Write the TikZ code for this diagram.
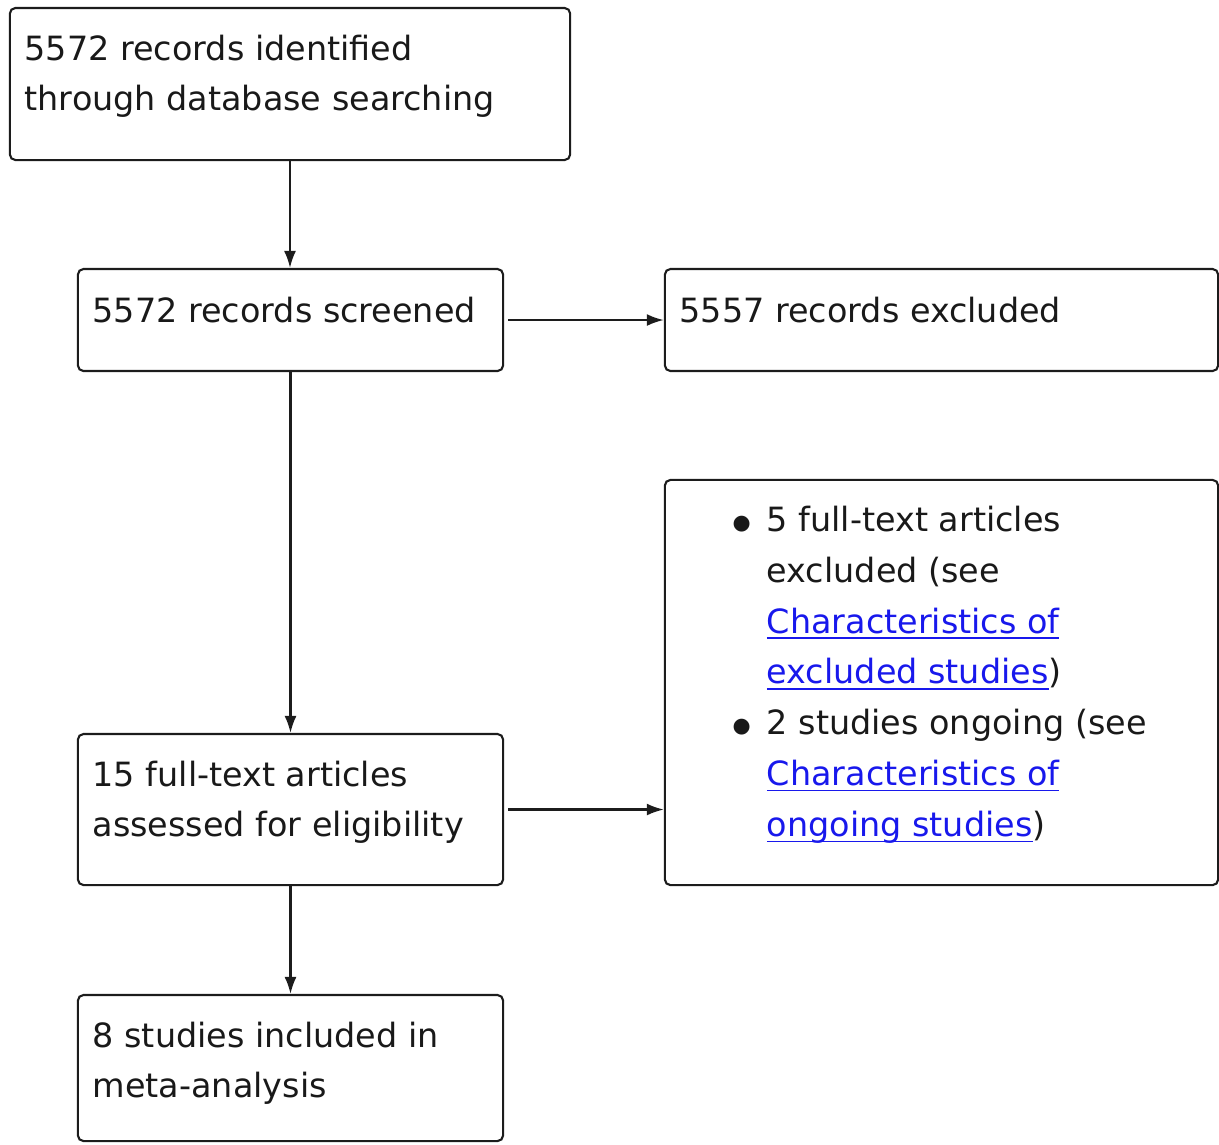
\documentclass[tikz,border=0pt]{standalone}
\usepackage{fontspec}
\setmainfont{DejaVu Sans}
\usetikzlibrary{arrows.meta}

\definecolor{linkblue}{RGB}{24,24,236}
\definecolor{boxline}{RGB}{28,28,28}

\tikzset{
  stagebox/.style={draw=boxline, line width=0.6pt, rounded corners=1.6pt, inner sep=0pt},
  stagetext/.style={anchor=north west, inner sep=0pt, align=left, text=black!90,
    font=\fontsize{9.5}{14.46}\selectfont},
  flow/.style={draw=boxline, line width=0.6pt, -{Latex[length=1.7mm,width=1.2mm]}}
}
\newcommand{\reflink}[1]{\textcolor{linkblue}{\underline{\smash{#1}}}}
\newcommand{\listdot}{\raisebox{0.5pt}{\fontsize{5.9}{5.9}\selectfont ●}}

\begin{document}
\begin{tikzpicture}[x=0.01cm, y=-0.01cm]
\useasboundingbox (0,0) rectangle (1219,1144);

% stage boxes
\node[stagebox, minimum width=5.6cm, minimum height=1.52cm] (ident) at (290,84) {};
\node[stagebox, minimum width=4.25cm, minimum height=1.02cm] (screen) at (290.5,320) {};
\node[stagebox, minimum width=5.53cm, minimum height=1.02cm] (excl) at (941.5,320) {};
\node[stagebox, minimum width=5.53cm, minimum height=4.05cm] (ftexcl) at (941.5,682.5) {};
\node[stagebox, minimum width=4.25cm, minimum height=1.51cm] (assess) at (290.5,809.5) {};
\node[stagebox, minimum width=4.25cm, minimum height=1.46cm] (incl) at (290.5,1068) {};

% box texts
\node[stagetext] (identtxt) at (24,34) {5572 records identified\\through database searching};
\node[stagetext] (screentxt) at (92,296) {5572 records screened};
\node[stagetext] (excltxt) at (679,296) {5557 records excluded};
\node[stagetext] (ftexcltxt) at (732,495) {%
  \begin{tabular}{@{}l@{\hspace{0.16cm}}l@{}}
  \listdot&5 full-text articles\\
   &excluded (see\\
   &\reflink{Characteristics of}\\
   &\reflink{excluded studies})\\
  \listdot&2 studies ongoing (see\\
   &\reflink{Characteristics of}\\
   &\reflink{ongoing studies})
  \end{tabular}};
\node[stagetext] (assesstxt) at (92,760) {15 full-text articles\\assessed for eligibility};
\node[stagetext] (incltxt) at (92,1021) {8 studies included in\\meta-analysis};

% connectors
\draw[flow] (ident.south) -- (ident.south |- screen.north); %ident-screen
\draw[flow] (screen.south) -- (assess.north); %screen-assess
\draw[flow] (assess.south) -- (incl.north); %assess-incl
\draw[flow] ([xshift=0.04cm]screen.east) -- (excl.west); %screen-excl
\draw[flow] ([xshift=0.04cm]assess.east) -- (assess.east -| ftexcl.west); %assess-ftexcl

\end{tikzpicture}
\end{document}
